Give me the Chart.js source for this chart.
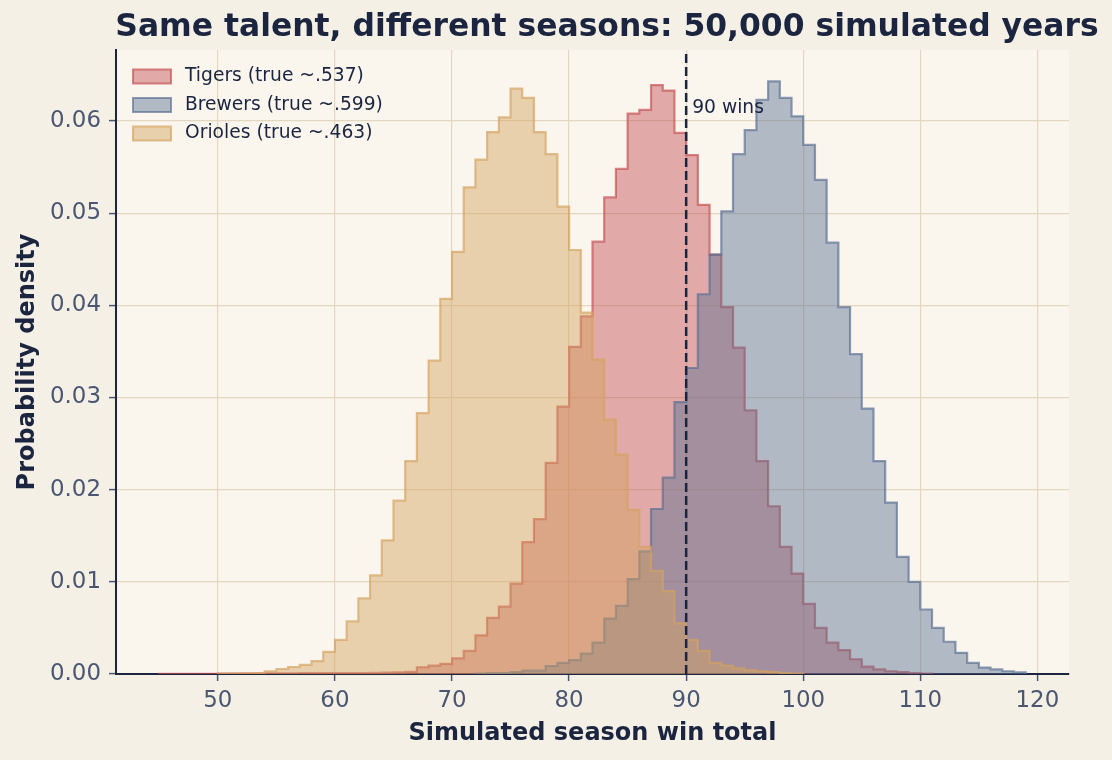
<!DOCTYPE html>
<html>
<head>
<meta charset="utf-8">
<title>Same talent, different seasons</title>
<script src="https://cdn.jsdelivr.net/npm/chart.js@4.4.1/dist/chart.umd.min.js"></script>
<style>
  html, body { margin: 0; padding: 0; background: #f5f0e6; }
  #wrap { width: 1112px; height: 760px; }
</style>
</head>
<body>
<div id="wrap"><canvas id="winsChart" width="1112" height="760"></canvas></div>
<script>
// labels
const chartTitle = "Same talent, different seasons: 50,000 simulated years";
const xTitle = "Simulated season win total";
const yTitle = "Probability density";
const teamLabels = ["Tigers (true ~.537)", "Brewers (true ~.599)", "Orioles (true ~.463)"];

// ticks
const xTicks = [50, 60, 70, 80, 90, 100, 110, 120];
const yTicks = [0, 0.01, 0.02, 0.03, 0.04, 0.05, 0.06];

// reference line
const markWins = 90;
const markLabel = "90 wins";

// histogram densities, one bin per win, starting at the first win listed
const tigersFirstWin = 45;
const tigersDensity = [
  0.00002, 0.00002, 0.00002, 0.00002, 0.00002, 0.00003, 0.00003, 0.00004, 0.00005, 0.00006,
  0.00007, 0.00008, 0.00009, 0.0001, 0.0001, 0.0001, 0.0001, 0.0001, 0.00012, 0.00014,
  0.00018, 0.00022, 0.00073, 0.0009, 0.0011, 0.0017, 0.0025, 0.0042, 0.0061, 0.0073,
  0.0098, 0.0143, 0.0168, 0.0229, 0.0290, 0.0355, 0.0388, 0.0469, 0.0517, 0.0548,
  0.0608, 0.0612, 0.0639, 0.0633, 0.0587, 0.0563, 0.0509, 0.0455, 0.0398, 0.0354,
  0.0286, 0.0231, 0.0182, 0.0138, 0.0109, 0.0076, 0.0050, 0.0034, 0.0026, 0.0016,
  0.0008, 0.0005, 0.0003, 0.0002, 0.0001, 0.00005
];

const brewersFirstWin = 72;
const brewersDensity = [
  0.00005, 0.0001, 0.0001, 0.0002, 0.00036, 0.00036, 0.00087, 0.0012, 0.0015, 0.0022,
  0.0034, 0.0060, 0.0074, 0.0103, 0.0133, 0.0179, 0.0213, 0.0295, 0.0332, 0.0412,
  0.0455, 0.0502, 0.0564, 0.0590, 0.0623, 0.0643, 0.0625, 0.0605, 0.0574, 0.0536,
  0.0468, 0.0398, 0.0347, 0.0288, 0.0231, 0.0186, 0.0127, 0.0100, 0.0070, 0.0050,
  0.0035, 0.0023, 0.0012, 0.0007, 0.0005, 0.0003, 0.00017
];

const oriolesFirstWin = 50;
const oriolesDensity = [
  0.00002, 0.00004, 0.00006, 0.0001, 0.0003, 0.00054, 0.00076, 0.00098, 0.0014, 0.0024,
  0.0037, 0.0057, 0.0082, 0.0107, 0.0145, 0.0188, 0.0231, 0.0283, 0.0340, 0.0407,
  0.0458, 0.0528, 0.0558, 0.0588, 0.0604, 0.0635, 0.0625, 0.0588, 0.0564, 0.0507,
  0.0460, 0.0392, 0.0341, 0.0276, 0.0238, 0.0178, 0.0138, 0.0112, 0.0090, 0.0055,
  0.0037, 0.0025, 0.0012, 0.0009, 0.0006, 0.0004, 0.0003, 0.0002, 0.0001, 0.00005
];

const navy = "#1b2540";
const tickGrey = "#4a5672";

// outline of a step histogram: drop to zero at both ends
function stepPoints(firstWin, density) {
  const pts = [{ x: firstWin, y: 0 }];
  density.forEach((d, i) => pts.push({ x: firstWin + i, y: d }));
  pts.push({ x: firstWin + density.length, y: 0 });
  return pts;
}

function histSet(label, firstWin, density, rgb, order) {
  return {
    label: label,
    data: stepPoints(firstWin, density),
    stepped: "before",
    fill: "origin",
    backgroundColor: `rgba(${rgb}, 0.45)`,
    borderColor: `rgba(${rgb}, 0.68)`,
    borderWidth: 2.2,
    pointRadius: 0,
    order: order
  };
}

const decor = {
  id: "decor",
  beforeDraw(chart) {
    const { ctx, chartArea: a } = chart;
    ctx.save();
    ctx.fillStyle = "#f5f0e6";
    ctx.fillRect(0, 0, chart.width, chart.height);
    ctx.fillStyle = "#faf6ee";
    ctx.fillRect(a.left, a.top, a.right - a.left, a.bottom - a.top);
    ctx.restore();
  },
  afterDatasetsDraw(chart) {
    const { ctx, chartArea: a, scales } = chart;
    const x = scales.x.getPixelForValue(markWins);
    ctx.save();
    ctx.strokeStyle = navy;
    ctx.lineWidth = 2.5;
    ctx.setLineDash([9, 4]);
    ctx.beginPath();
    ctx.moveTo(x, a.bottom);
    ctx.lineTo(x, a.top);
    ctx.stroke();
    ctx.setLineDash([]);
    ctx.fillStyle = navy;
    ctx.font = "18.7px 'DejaVu Sans'";
    ctx.textBaseline = "middle";
    ctx.textAlign = "left";
    ctx.fillText(markLabel, x + 6, a.top + 58);

    // legend, top left inside the axes
    chart.data.datasets.forEach((ds, i) => {
      const cy = a.top + 26.5 + i * 28.5;
      ctx.fillStyle = ds.backgroundColor;
      ctx.fillRect(a.left + 17, cy - 7, 38, 14);
      ctx.strokeStyle = ds.borderColor;
      ctx.lineWidth = 2;
      ctx.strokeRect(a.left + 17, cy - 7, 38, 14);
      ctx.fillStyle = navy;
      ctx.fillText(ds.label, a.left + 69, cy);
    });

    // title
    ctx.font = "bold 31.4px 'DejaVu Sans'";
    ctx.textAlign = "center";
    ctx.fillText(chartTitle, 607, 28);
    ctx.restore();
  }
};

Chart.defaults.font.family = "'DejaVu Sans'";

const ctx = document.getElementById("winsChart").getContext("2d");
const chart = new Chart(ctx, {
  type: "line",
  data: {
    datasets: [
      histSet(teamLabels[0], tigersFirstWin, tigersDensity, "196, 78, 82", 3),
      histSet(teamLabels[1], brewersFirstWin, brewersDensity, "88, 110, 147", 2),
      histSet(teamLabels[2], oriolesFirstWin, oriolesDensity, "212, 162, 94", 1)
    ]
  },
  options: {
    responsive: false,
    animation: false,
    layout: { padding: { top: 50, right: 43, left: 9, bottom: 8 } },
    scales: {
      x: {
        type: "linear",
        min: 41.3,
        max: 122.7,
        afterBuildTicks: (s) => { s.ticks = xTicks.map(v => ({ value: v })); },
        afterFit: (s) => { s.height = 78; },
        ticks: { color: tickGrey, font: { size: 22.9 }, padding: 6, maxRotation: 0, callback: v => String(v) },
        grid: { color: "#e2d7bf", lineWidth: 1.2, tickColor: tickGrey, tickLength: 7, tickWidth: 1.5 },
        border: { color: navy, width: 2 },
        title: { display: true, text: xTitle, color: navy, font: { size: 24, weight: "bold" } }
      },
      y: {
        min: 0,
        max: 0.0677,
        afterBuildTicks: (s) => { s.ticks = yTicks.map(v => ({ value: v })); },
        afterFit: (s) => { s.width = 107; },
        ticks: { color: tickGrey, font: { size: 22.9 }, padding: 8, callback: v => v.toFixed(2) },
        grid: { color: "#e2d7bf", lineWidth: 1.2, tickColor: tickGrey, tickLength: 7, tickWidth: 1.5 },
        border: { color: navy, width: 2 },
        title: { display: true, text: yTitle, color: navy, font: { size: 24, weight: "bold" } }
      }
    },
    plugins: {
      legend: { display: false },
      tooltip: { enabled: false },
      title: { display: false }
    }
  },
  plugins: [decor]
});
</script>
</body>
</html>
